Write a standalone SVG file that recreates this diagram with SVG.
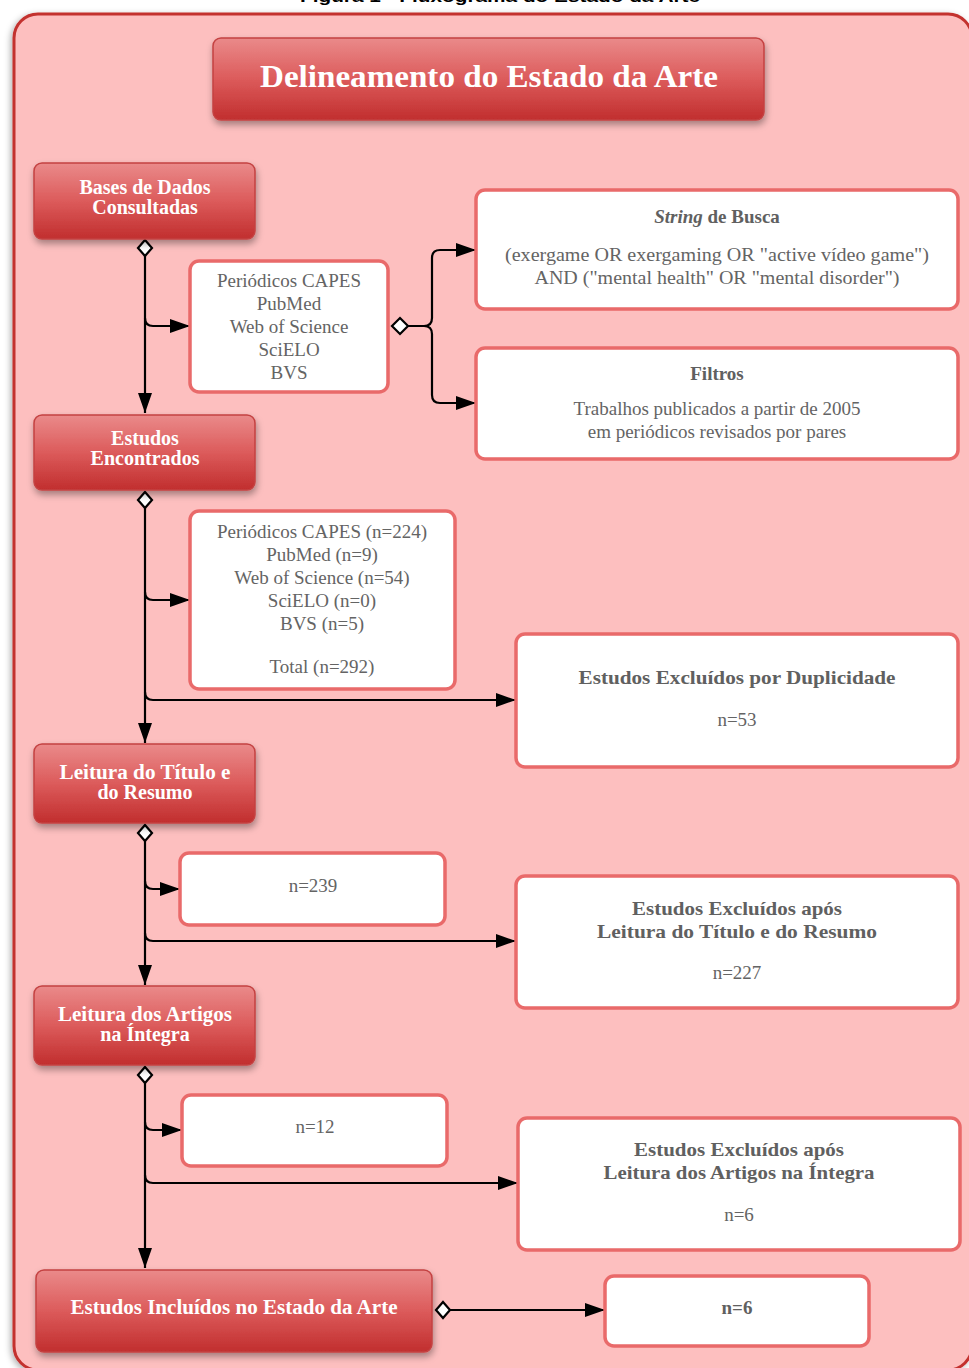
<svg xmlns="http://www.w3.org/2000/svg" width="969" height="1368" viewBox="0 0 969 1368">
<defs>
<linearGradient id="redg" x1="0" y1="0" x2="0" y2="1">
<stop offset="0" stop-color="#ea8a8a"/>
<stop offset="0.5" stop-color="#dc5b5b"/>
<stop offset="1" stop-color="#c12e2e"/>
</linearGradient>
<filter id="sh" x="-10%" y="-20%" width="125%" height="150%">
<feDropShadow dx="1" dy="4" stdDeviation="3.5" flood-color="#000" flood-opacity="0.35"/>
</filter>
<filter id="sh2" x="-5%" y="-5%" width="110%" height="110%">
<feDropShadow dx="-2" dy="2" stdDeviation="3" flood-color="#000" flood-opacity="0.3"/>
</filter>
<marker id="arr" markerUnits="userSpaceOnUse" markerWidth="22" markerHeight="16" refX="20" refY="7" orient="auto">
<path d="M0,0 L20,7 L0,14 Z" fill="#000"/>
</marker>
<style>
.red{fill:url(#redg);stroke:#c44242;stroke-width:1.5;filter:url(#sh)}
.wb{fill:#fff;stroke:#e96a6a;stroke-width:3.5}
.rt{font-family:"Liberation Serif","DejaVu Serif",serif;font-weight:bold;fill:#fff;font-size:20px;text-anchor:middle}
.big{font-size:31px}
.gt{font-family:"Liberation Serif","DejaVu Serif",serif;fill:#646464;font-size:19px;text-anchor:middle}
.gb{font-family:"Liberation Serif","DejaVu Serif",serif;fill:#606060;font-size:19px;font-weight:bold;text-anchor:middle}
.ln{fill:none;stroke:#000;stroke-width:2.2}
.dm{fill:#fff;stroke:#000;stroke-width:2.2}
</style>
</defs>
<rect width="969" height="1368" fill="#fff"/>
<text x="500" y="2" font-family="'Liberation Sans',Arial,sans-serif" font-weight="bold" font-size="16" text-anchor="middle" fill="#000" textLength="400" lengthAdjust="spacingAndGlyphs">Figura 1 - Fluxograma do Estado da Arte</text>
<rect id="frame" x="14" y="14" width="958" height="1356" rx="24" fill="#fdbfbf" stroke="#c3302f" stroke-width="3" filter="url(#sh2)"/>

<g id="title">
<rect class="red" x="213" y="38" width="551" height="82" rx="8"/>
<text class="rt big" x="489" y="87" textLength="458" lengthAdjust="spacingAndGlyphs">Delineamento do Estado da Arte</text>
</g>

<g id="connectors">
<path class="ln" d="M145 256 V413" marker-end="url(#arr)"/>
<path class="ln" d="M145 318 Q145 326 153 326 H190" marker-end="url(#arr)"/>
<path class="ln" d="M408 326 H424 Q432 326 432 318 V258 Q432 250 440 250 H476" marker-end="url(#arr)"/>
<path class="ln" d="M424 326 Q432 326 432 334 V395 Q432 403 440 403 H476" marker-end="url(#arr)"/>
<path class="ln" d="M145 508 V743" marker-end="url(#arr)"/>
<path class="ln" d="M145 592 Q145 600 153 600 H190" marker-end="url(#arr)"/>
<path class="ln" d="M145 692 Q145 700 153 700 H516" marker-end="url(#arr)"/>
<path class="ln" d="M145 841 V985" marker-end="url(#arr)"/>
<path class="ln" d="M145 881 Q145 889 153 889 H180" marker-end="url(#arr)"/>
<path class="ln" d="M145 933 Q145 941 153 941 H516" marker-end="url(#arr)"/>
<path class="ln" d="M145 1083 V1268" marker-end="url(#arr)"/>
<path class="ln" d="M145 1122 Q145 1130 153 1130 H182" marker-end="url(#arr)"/>
<path class="ln" d="M145 1175 Q145 1183 153 1183 H518" marker-end="url(#arr)"/>
<path class="ln" d="M450 1310 H605" marker-end="url(#arr)"/>
<polygon class="dm" points="145,240 152,248 145,256 138,248"/>
<polygon class="dm" points="400,318 408,326 400,334 392,326"/>
<polygon class="dm" points="145,492 152,500 145,508 138,500"/>
<polygon class="dm" points="145,825 152,833 145,841 138,833"/>
<polygon class="dm" points="145,1067 152,1075 145,1083 138,1075"/>
<polygon class="dm" points="443,1302 450,1310 443,1318 436,1310"/>
</g>

<g id="bases">
<rect class="red" x="34" y="163" width="221" height="76" rx="8"/>
<text class="rt" x="145" y="194">Bases de Dados</text>
<text class="rt" x="145" y="214">Consultadas</text>
</g>

<g id="lista-bases">
<rect class="wb" x="190" y="261" width="198" height="131" rx="9"/>
<text class="gt" x="289" y="287">Periódicos CAPES</text>
<text class="gt" x="289" y="310">PubMed</text>
<text class="gt" x="289" y="333">Web of Science</text>
<text class="gt" x="289" y="356">SciELO</text>
<text class="gt" x="289" y="379">BVS</text>
</g>

<g id="string">
<rect class="wb" x="476" y="190" width="482" height="119" rx="9"/>
<text class="gb" x="717" y="223"><tspan font-style="italic">String</tspan> de Busca</text>
<text class="gt" x="717" y="261" textLength="424" lengthAdjust="spacingAndGlyphs">(exergame OR exergaming OR "active vídeo game")</text>
<text class="gt" x="717" y="284" textLength="365" lengthAdjust="spacingAndGlyphs">AND ("mental health" OR "mental disorder")</text>
</g>

<g id="filtros">
<rect class="wb" x="476" y="348" width="482" height="111" rx="9"/>
<text class="gb" x="717" y="380">Filtros</text>
<text class="gt" x="717" y="415">Trabalhos publicados a partir de 2005</text>
<text class="gt" x="717" y="438">em periódicos revisados por pares</text>
</g>

<g id="encontrados">
<rect class="red" x="34" y="415" width="221" height="75" rx="8"/>
<text class="rt" x="145" y="445">Estudos</text>
<text class="rt" x="145" y="465">Encontrados</text>
</g>

<g id="contagem">
<rect class="wb" x="190" y="511" width="265" height="178" rx="9"/>
<text class="gt" x="322" y="538">Periódicos CAPES (n=224)</text>
<text class="gt" x="322" y="561">PubMed (n=9)</text>
<text class="gt" x="322" y="584">Web of Science (n=54)</text>
<text class="gt" x="322" y="607">SciELO (n=0)</text>
<text class="gt" x="322" y="630">BVS (n=5)</text>
<text class="gt" x="322" y="673">Total (n=292)</text>
</g>

<g id="duplicidade">
<rect class="wb" x="516" y="634" width="442" height="133" rx="9"/>
<text class="gb" x="737" y="684" textLength="317" lengthAdjust="spacingAndGlyphs">Estudos Excluídos por Duplicidade</text>
<text class="gt" x="737" y="726">n=53</text>
</g>

<g id="leitura-titulo">
<rect class="red" x="34" y="744" width="221" height="79" rx="8"/>
<text class="rt" x="145" y="779" textLength="171" lengthAdjust="spacingAndGlyphs">Leitura do Título e</text>
<text class="rt" x="145" y="799">do Resumo</text>
</g>

<g id="n239">
<rect class="wb" x="180" y="853" width="265" height="72" rx="9"/>
<text class="gt" x="313" y="892">n=239</text>
</g>

<g id="excl-titulo">
<rect class="wb" x="516" y="876" width="442" height="132" rx="9"/>
<text class="gb" x="737" y="915" textLength="210" lengthAdjust="spacingAndGlyphs">Estudos Excluídos após</text>
<text class="gb" x="737" y="938" textLength="280" lengthAdjust="spacingAndGlyphs">Leitura do Título e do Resumo</text>
<text class="gt" x="737" y="979">n=227</text>
</g>

<g id="leitura-artigos">
<rect class="red" x="34" y="986" width="221" height="79" rx="8"/>
<text class="rt" x="145" y="1021" textLength="174" lengthAdjust="spacingAndGlyphs">Leitura dos Artigos</text>
<text class="rt" x="145" y="1041">na Íntegra</text>
</g>

<g id="n12">
<rect class="wb" x="182" y="1095" width="265" height="71" rx="9"/>
<text class="gt" x="315" y="1133">n=12</text>
</g>

<g id="excl-artigos">
<rect class="wb" x="518" y="1118" width="442" height="132" rx="9"/>
<text class="gb" x="739" y="1156" textLength="210" lengthAdjust="spacingAndGlyphs">Estudos Excluídos após</text>
<text class="gb" x="739" y="1179" textLength="271" lengthAdjust="spacingAndGlyphs">Leitura dos Artigos na Íntegra</text>
<text class="gt" x="739" y="1221">n=6</text>
</g>

<g id="incluidos">
<rect class="red" x="36" y="1270" width="396" height="82" rx="8"/>
<text class="rt" x="234" y="1314" textLength="327" lengthAdjust="spacingAndGlyphs">Estudos Incluídos no Estado da Arte</text>
</g>

<g id="n6">
<rect class="wb" x="605" y="1276" width="264" height="70" rx="9"/>
<text class="gb" x="737" y="1314">n=6</text>
</g>
</svg>
